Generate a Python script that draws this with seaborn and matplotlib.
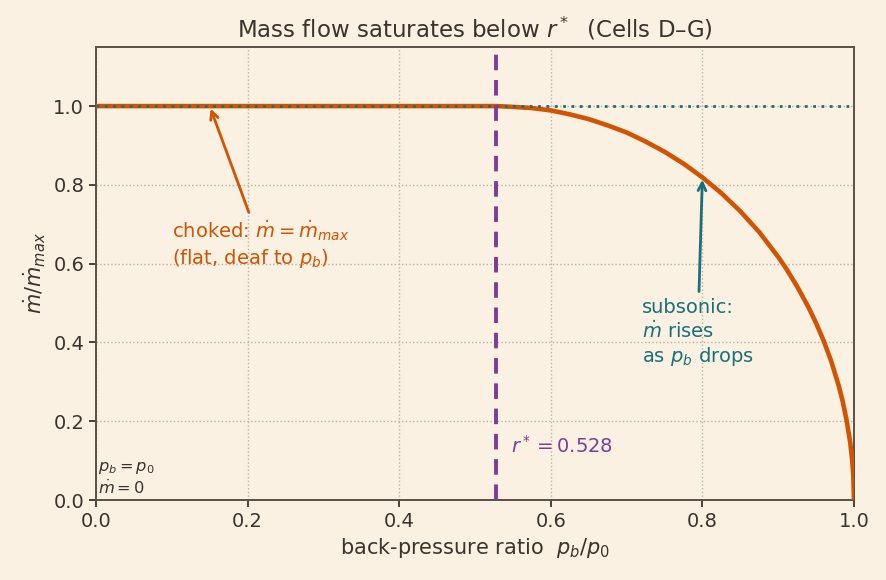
import pandas as pd
import matplotlib
matplotlib.use("Agg")
import matplotlib.pyplot as plt
import seaborn as sns

# values
r_star = 0.528
pb_ratio = [0.0, 0.528, 0.55, 0.575, 0.60, 0.625, 0.65, 0.675, 0.70, 0.725, 0.75,
            0.775, 0.80, 0.825, 0.85, 0.875, 0.90, 0.91, 0.925, 0.94, 0.95, 0.96,
            0.97, 0.98, 0.985, 0.99, 0.995, 0.9975, 0.999, 1.0]
mdot_ratio = [1.0, 1.0, 0.998, 0.995, 0.989, 0.979, 0.967, 0.951, 0.933, 0.910, 0.884,
              0.854, 0.819, 0.779, 0.733, 0.680, 0.617, 0.589, 0.542, 0.489, 0.449, 0.404,
              0.352, 0.289, 0.251, 0.205, 0.146, 0.103, 0.065, 0.0]
flat_x = [0.0, 1.0]
flat_y = [1.0, 1.0]

bg = "#faf1e3"
ink = "#3b332c"
orange = "#d35400"
teal = "#17707a"
purple = "#7d3c98"

sns.set_theme(style="ticks")
plt.rcParams["font.family"] = ["DejaVu Sans"]

df = pd.DataFrame({"pb": pb_ratio, "mdot": mdot_ratio})
ref = pd.DataFrame({"pb": flat_x, "mdot": flat_y})

fig, ax = plt.subplots(figsize=(8.86, 5.8), dpi=100)
fig.patch.set_facecolor(bg)
ax.set_facecolor(bg)
fig.subplots_adjust(left=96/886, right=854/886, top=1-47/580, bottom=1-500/580)

sns.lineplot(data=df, x="pb", y="mdot", color=orange, lw=3.3, ax=ax, zorder=3)
sns.lineplot(data=ref, x="pb", y="mdot", color=teal, lw=2, ls=(0, (1, 2)), ax=ax, zorder=4)
ax.axvline(r_star, color=purple, lw=2.8, ls=(0, (4, 2.5)), zorder=5)

ax.set_xlim(0, 1)
ax.set_ylim(0, 1.15)
ax.set_yticks([0, 0.2, 0.4, 0.6, 0.8, 1.0])
ax.grid(True, ls=":", color="#b9b0a4", lw=1)

ax.set_title("Mass flow saturates below $r^*$  (Cells D–G)", fontsize=16.5, color=ink, pad=7)
ax.set_xlabel("back-pressure ratio  $p_b/p_0$", fontsize=15, color=ink)
ax.set_ylabel(r"$\dot{m}/\dot{m}_{max}$", fontsize=15, color=ink)
ax.tick_params(labelsize=14, colors=ink, width=1.3, length=5)
for s in ax.spines.values():
    s.set_color("#5a5046")
    s.set_linewidth(1.4)

ax.annotate("choked: $\\dot{m} = \\dot{m}_{max}$\n(flat, deaf to $p_b$)",
            xy=(0.15, 1.0), xytext=(0.10, 0.60), color=orange, fontsize=14,
            arrowprops=dict(arrowstyle="->", color=orange, lw=2))
ax.annotate("subsonic:\n$\\dot{m}$ rises\nas $p_b$ drops",
            xy=(0.80, 0.82), xytext=(0.72, 0.35), color=teal, fontsize=14,
            arrowprops=dict(arrowstyle="->", color=teal, lw=2))
ax.text(r_star + 0.02, 0.12, "$r^* = 0.528$", color=purple, fontsize=14)
ax.text(0.002, 0.015, "$p_b = p_0$\n$\\dot{m} = 0$", color=ink, fontsize=11.7)

plt.savefig("out.png", dpi=100, facecolor=bg)
